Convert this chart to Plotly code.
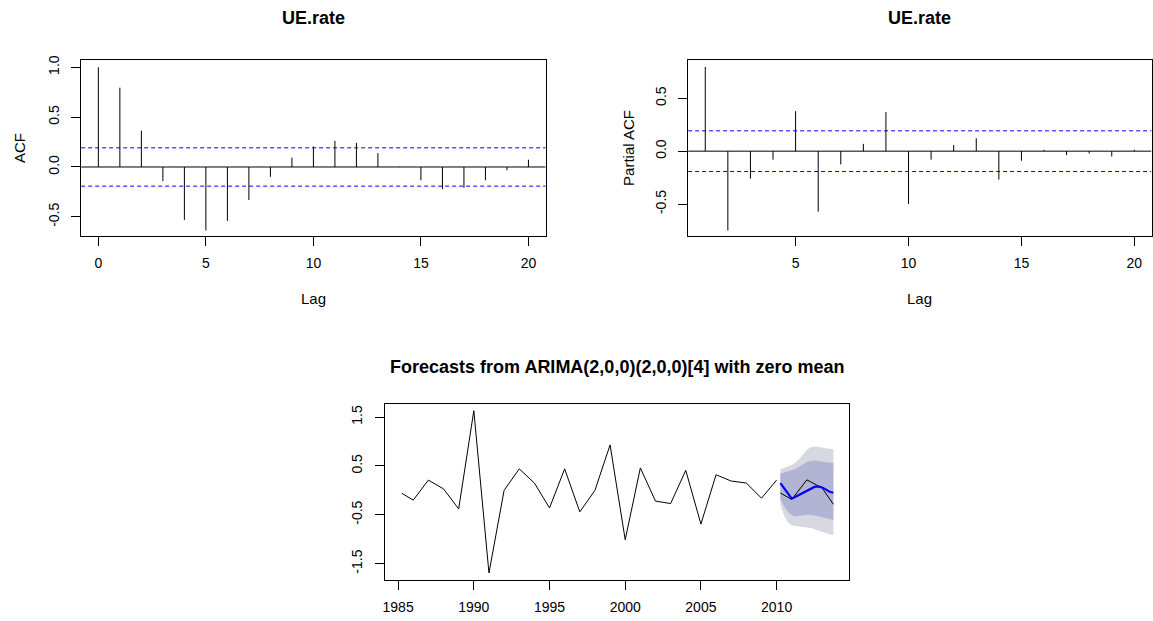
import plotly.graph_objects as go

# ---------------- data ----------------
acf_lags = [0, 1, 2, 3, 4, 5, 6, 7, 8, 9, 10, 11, 12, 13, 14, 15, 16, 17, 18, 19, 20]
acf_vals = [1.0, 0.795, 0.364, -0.142, -0.53, -0.636, -0.54, -0.331, -0.099, 0.093, 0.205,
            0.262, 0.242, 0.139, 0.004, -0.133, -0.222, -0.209, -0.133, -0.033, 0.073]

pacf_lags = [1, 2, 3, 4, 5, 6, 7, 8, 9, 10, 11, 12, 13, 14, 15, 16, 17, 18, 19, 20]
pacf_vals = [0.797, -0.75, -0.259, -0.081, 0.378, -0.572, -0.125, 0.069, 0.369, -0.5,
             -0.081, 0.059, 0.122, -0.269, -0.091, 0.0125, -0.0375, -0.022, -0.05, 0.0125]

ci_bound = 0.192

hist_t = [1985.25, 1986, 1987, 1988, 1989, 1990, 1991, 1992, 1993, 1994, 1995, 1996, 1997,
          1998, 1999, 2000, 2001, 2002, 2003, 2004, 2005, 2006, 2007, 2008, 2009, 2010]
hist_v = [-0.06, -0.20, 0.21, 0.03, -0.38, 1.63, -1.69, 0.0, 0.44, 0.15, -0.36, 0.44, -0.44,
          0.0, 0.93, -1.01, 0.46, -0.22, -0.27, 0.41, -0.69, 0.32, 0.19, 0.15, -0.16, 0.21]

test_t = [2010.25, 2011, 2012, 2013, 2013.75]
test_v = [-0.055, -0.185, 0.215, 0.05, -0.285]

fc_t = [2010.25, 2010.5, 2010.75, 2011.0, 2011.25, 2011.5, 2011.75, 2012.0,
        2012.25, 2012.5, 2012.75, 2013.0, 2013.25, 2013.5, 2013.75]
fc_mean = [0.15, 0.05, -0.07, -0.17, -0.13, -0.09, -0.05, -0.02, 0.03, 0.07, 0.08, 0.06, 0.02, -0.03, -0.05]
fc_hi95 = [0.43, 0.46, 0.49, 0.52, 0.57, 0.64, 0.74, 0.83, 0.88, 0.90, 0.89, 0.87, 0.86, 0.85, 0.84]
fc_hi80 = [0.34, 0.37, 0.39, 0.41, 0.44, 0.49, 0.54, 0.58, 0.60, 0.61, 0.60, 0.59, 0.58, 0.57, 0.56]
fc_lo80 = [-0.18, -0.33, -0.44, -0.51, -0.53, -0.52, -0.51, -0.50, -0.50, -0.51, -0.53, -0.55, -0.57, -0.59, -0.60]
fc_lo95 = [-0.30, -0.52, -0.66, -0.72, -0.74, -0.75, -0.75, -0.76, -0.77, -0.79, -0.82, -0.85, -0.88, -0.90, -0.92]

acf_title = "UE.rate"
fc_title = "Forecasts from ARIMA(2,0,0)(2,0,0)[4] with zero mean"

# ---------------- layout helpers ----------------
W, H = 1153, 621
FONT = "Liberation Sans, Arial, sans-serif"
CI_COLOR = "#0000FF"

acf_xrange = [-0.8, 20.8]
pacf_xrange = [0.24, 20.76]


def fx(px):
    return px / W


def fy(py):
    return 1 - py / H


acf_box = (79.3, 544.6, 55.7, 232.7)
pacf_box = (687.3, 1151.5, 55.7, 232.7)
fc_box = (383.3, 848.0, 402.3, 579.3)


def spikes(lags, vals):
    xs, ys = [], []
    for l, v in zip(lags, vals):
        xs += [l, l, None]
        ys += [0, v, None]
    return xs, ys


fig = go.Figure()

# zero lines and confidence bounds (drawn across the whole panel)
for xr, xa, ya in ((acf_xrange, "x", "y"), (pacf_xrange, "x2", "y2")):
    fig.add_trace(go.Scatter(x=xr, y=[0, 0], mode="lines", line=dict(color="black", width=1),
                             xaxis=xa, yaxis=ya, hoverinfo="skip"))
    for b in (ci_bound, -ci_bound):
        fig.add_trace(go.Scatter(x=xr, y=[b, b], mode="lines",
                                 line=dict(color=CI_COLOR, width=1, dash="4px,3px"),
                                 xaxis=xa, yaxis=ya, hoverinfo="skip"))

ax, ay = spikes(acf_lags, acf_vals)
fig.add_trace(go.Scatter(x=ax, y=ay, mode="lines", line=dict(color="black", width=1),
                         xaxis="x", yaxis="y", hoverinfo="skip"))
px_, py_ = spikes(pacf_lags, pacf_vals)
fig.add_trace(go.Scatter(x=px_, y=py_, mode="lines", line=dict(color="black", width=1),
                         xaxis="x2", yaxis="y2", hoverinfo="skip"))

# forecast fan
fig.add_trace(go.Scatter(x=fc_t + fc_t[::-1], y=fc_hi95 + fc_lo95[::-1], mode="lines",
                         fill="toself", fillcolor="#D8D8E1", line=dict(width=0, color="#D8D8E1"),
                         xaxis="x3", yaxis="y3", hoverinfo="skip"))
fig.add_trace(go.Scatter(x=fc_t + fc_t[::-1], y=fc_hi80 + fc_lo80[::-1], mode="lines",
                         fill="toself", fillcolor="#B1B5D3", line=dict(width=0, color="#B1B5D3"),
                         xaxis="x3", yaxis="y3", hoverinfo="skip"))
fig.add_trace(go.Scatter(x=hist_t, y=hist_v, mode="lines", line=dict(color="black", width=1),
                         xaxis="x3", yaxis="y3"))
fig.add_trace(go.Scatter(x=test_t, y=test_v, mode="lines", line=dict(color="black", width=1),
                         xaxis="x3", yaxis="y3"))
fig.add_trace(go.Scatter(x=fc_t, y=fc_mean, mode="lines", line=dict(color="#0000FF", width=2.2),
                         xaxis="x3", yaxis="y3"))

tickfont = dict(family=FONT, size=14, color="black")
common = dict(showline=True, mirror=True, linecolor="black", linewidth=1, ticks="outside",
              ticklen=9, tickwidth=1, tickcolor="black", showgrid=False, zeroline=False,
              tickfont=tickfont, fixedrange=True)

fig.update_layout(
    width=W, height=H, autosize=False, showlegend=False,
    margin=dict(l=0, r=0, t=0, b=0), paper_bgcolor="white", plot_bgcolor="white",
    xaxis=dict(domain=[fx(acf_box[0]), fx(acf_box[1])], range=acf_xrange,
               tickvals=[0, 5, 10, 15, 20], anchor="y", ticklabelstandoff=5, **common),
    yaxis=dict(domain=[fy(acf_box[3]), fy(acf_box[2])], range=[-0.69, 1.07],
               tickvals=[-0.5, 0.0, 0.5, 1.0], ticktext=["-0.5", "0.0", "0.5", "1.0"],
               tickangle=-90, anchor="x", ticklabelstandoff=7, **common),
    xaxis2=dict(domain=[fx(pacf_box[0]), fx(pacf_box[1])], range=pacf_xrange,
                tickvals=[5, 10, 15, 20], anchor="y2", ticklabelstandoff=5, **common),
    yaxis2=dict(domain=[fy(pacf_box[3]), fy(pacf_box[2])], range=[-0.80, 0.859],
                tickvals=[-0.5, 0.0, 0.5], ticktext=["-0.5", "0.0", "0.5"],
                tickangle=-90, anchor="x2", ticklabelstandoff=7, **common),
    xaxis3=dict(domain=[fx(fc_box[0]), fx(fc_box[1])], range=[1984.11, 2014.75],
                tickvals=[1985, 1990, 1995, 2000, 2005, 2010], anchor="y3",
                ticklabelstandoff=6, **common),
    yaxis3=dict(domain=[fy(fc_box[3]), fy(fc_box[2])], range=[-1.827, 1.766],
                tickvals=[-1.5, -0.5, 0.5, 1.5], ticktext=["-1.5", "-0.5", "0.5", "1.5"],
                tickangle=-90, anchor="x3", ticklabelstandoff=7, **common),
)

# titles and axis labels
titlefont = dict(family=FONT, size=18, color="black")
labfont = dict(family=FONT, size=15, color="black")


def ann(text, x, y, font, angle=0):
    fig.add_annotation(text=text, x=fx(x), y=fy(y), xref="paper", yref="paper",
                       showarrow=False, font=font, textangle=angle,
                       xanchor="center", yanchor="middle")


acf_cx = (acf_box[0] + acf_box[1]) / 2
pacf_cx = (pacf_box[0] + pacf_box[1]) / 2
fc_cx = (fc_box[0] + fc_box[1]) / 2
ann("<b>" + acf_title + "</b>", acf_cx, 13, titlefont)
ann("<b>" + acf_title + "</b>", pacf_cx, 13, titlefont)
ann("<b>" + fc_title + "</b>", fc_cx, 365, titlefont)
ann("Lag", acf_cx, 296, labfont)
ann("Lag", pacf_cx, 296, labfont)
ann("ACF", 17, (acf_box[2] + acf_box[3]) / 2, labfont, -90)
ann("Partial ACF", 627, (pacf_box[2] + pacf_box[3]) / 2, labfont, -90)

fig.write_html(
    "out.html",
    config={"displayModeBar": False},
    post_script="document.body.style.margin='0';document.body.style.padding='0';"
                "document.body.style.overflow='hidden';",
)
